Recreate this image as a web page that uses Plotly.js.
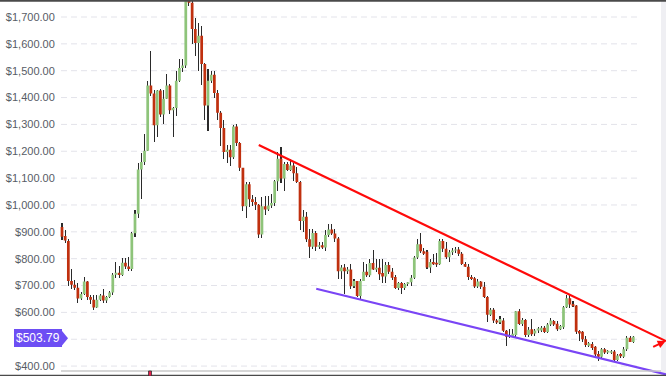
<!DOCTYPE html>
<html>
<head>
<meta charset="utf-8">
<script src="https://cdn.plot.ly/plotly-3.0.1.min.js"></script>
<style>html,body{margin:0;padding:0;background:#fff;}#chart{width:666px;height:376px;}</style>
</head>
<body>
<div id="chart"></div>
<script>
// ---- data ----
const openP = [918,884,866,717,703,692,652,668,715,657,647,618,647,663,644,657,674,740,748,739,785,771,762,895,967,1132,1160,1202,1445,1415,1297,1426,1337,1396,1445,1353,1361,1463,1510,1519,1790,1753,1655,1603,1630,1525,1370,1463,1485,1417,1343,1287,1197,1206,1178,1292,1231,1139,995,1077,1021,1011,1001,890,995,983,998,1007,1088,1172,1099,1153,1130,1147,1118,1086,940,956,872,844,896,844,850,842,888,909,894,875,753,767,753,760,697,717,661,717,751,738,784,760,766,747,734,776,751,732,691,709,691,706,712,729,804,854,828,826,767,788,785,779,866,837,805,824,830,834,818,780,770,732,727,696,715,695,657,591,610,570,562,570,532,509,512,516,604,557,572,516,537,521,533,533,543,527,555,568,558,537,545,619,653,631,626,531,528,500,476,482,472,445,435,463,451,450,454,423,445,435,463,506,490];
const highP = [934,905,872,760,720,708,676,731,716,663,663,663,668,688,660,678,745,788,774,802,802,805,900,983,1157,1194,1266,1463,1575,1427,1430,1432,1430,1489,1452,1365,1498,1544,1544,1800,1800,1763,1696,1678,1668,1530,1506,1500,1500,1430,1350,1315,1222,1222,1296,1302,1235,1139,1085,1085,1036,1030,1005,1030,1033,1033,1040,1094,1197,1216,1160,1160,1172,1155,1140,1090,980,975,910,912,902,862,862,906,929,929,909,881,775,781,768,779,725,717,725,788,782,800,832,800,800,800,788,788,766,738,712,712,710,715,738,809,875,894,838,832,800,819,820,875,875,862,834,838,844,844,825,786,780,740,732,725,718,712,662,616,615,575,585,580,534,537,540,607,612,580,575,545,577,540,545,548,550,562,580,572,568,552,623,666,663,641,628,535,532,512,490,490,476,457,468,466,460,460,461,445,450,470,512,512,512];
const lowP = [870,858,700,688,682,636,645,663,645,632,608,616,642,635,636,654,663,728,728,736,761,755,755,880,950,1024,1150,1200,1405,1234,1254,1328,1300,1393,1337,1254,1330,1458,1497,1510,1740,1600,1556,1500,1448,1316,1275,1455,1400,1316,1218,1172,1155,1147,1172,1220,1127,978,953,992,995,980,878,878,962,978,988,995,1052,1080,1052,1125,1127,1090,1082,906,900,862,804,835,830,835,835,827,880,890,862,726,726,667,742,688,692,657,651,717,732,732,757,750,719,710,711,742,722,688,685,667,685,700,700,725,800,820,812,760,747,775,770,775,825,800,788,815,820,810,775,768,722,720,692,692,687,652,566,585,560,558,555,528,476,505,508,510,552,550,510,510,512,512,525,528,525,522,550,550,530,533,540,615,617,620,520,495,490,470,470,460,433,420,432,445,445,445,415,418,432,430,458,488,486];
const closeP = [882,868,717,703,692,652,668,715,657,647,618,647,663,644,657,674,740,748,739,785,771,762,895,967,1132,1160,1202,1445,1415,1297,1426,1337,1396,1445,1353,1361,1463,1510,1519,1780,1753,1655,1603,1630,1525,1370,1463,1485,1417,1343,1287,1197,1206,1178,1292,1231,1139,995,1077,1021,1011,1001,890,995,983,998,1007,1088,1172,1099,1153,1130,1147,1118,1086,940,956,872,844,896,844,850,842,888,909,894,875,753,767,753,760,697,717,661,717,751,738,784,760,766,742,734,776,751,729,691,709,691,706,712,729,804,854,828,818,767,788,779,778,866,837,805,824,830,834,818,780,770,732,724,696,715,695,657,591,610,570,562,575,532,509,516,520,604,557,572,516,535,519,533,540,543,527,555,570,555,537,549,619,653,629,623,528,521,500,479,485,467,443,435,463,451,457,455,423,439,437,463,506,490,509];

// grid levels (every $100); the $500 label is hidden behind the price tag in the reference
const gridValues = [400,500,600,700,800,900,1000,1100,1200,1300,1400,1500,1600,1700];
const tickValues = [400,600,700,800,900,1000,1100,1200,1300,1400,1500,1600,1700];
const tickLabels = ["$400.00","$600.00","$700.00","$800.00","$900.00","$1,000.00","$1,100.00","$1,200.00","$1,300.00","$1,400.00","$1,500.00","$1,600.00","$1,700.00"];

const resistX = [62, 190.3];
const resistY = [1223, 493];
const supportX = [80.1, 190.3];
const supportY = [688, 369];
const lastPrice = 503.79;
const lastPriceLabel = "$503.79";

// ---- build ----
const idx = openP.map((_, i) => i);
const wickLen = highP.map((h, i) => h - lowP[i]);

const wicks = {
  type: 'bar', x: idx, base: lowP, y: wickLen, width: 0.33,
  marker: {color: '#2a2a2a', line: {width: 0}},
  hoverinfo: 'skip', showlegend: false
};
const bodies = {
  type: 'candlestick', x: idx, open: openP, high: highP, low: lowP, close: closeP,
  increasing: {fillcolor: '#8ec47a', line: {color: '#8ec47a', width: 0}},
  decreasing: {fillcolor: '#c0300f', line: {color: '#c0300f', width: 0}},
  whiskerwidth: 0, hoverinfo: 'skip', showlegend: false
};
const resist = {
  type: 'scatter', mode: 'lines', x: resistX, y: resistY,
  line: {color: '#ff0a0a', width: 2.2}, hoverinfo: 'skip', showlegend: false
};
const support = {
  type: 'scatter', mode: 'lines', x: supportX, y: supportY,
  line: {color: '#7a45f5', width: 2.2}, hoverinfo: 'skip', showlegend: false
};

const plotL = 60, plotW = 606;
const px = v => (v - plotL) / plotW;

const shapes = [];
gridValues.forEach(v => shapes.push({
  type: 'line', xref: 'paper', yref: 'y', x0: px(61), x1: px(637), y0: v, y1: v,
  line: {color: '#e3e3ea', width: 1, dash: '6px,4px'}, layer: 'below'
}));
shapes.push({type: 'rect', xref: 'paper', yref: 'paper', x0: px(661), x1: px(667), y0: 0, y1: 1,
  fillcolor: '#efeff3', line: {width: 0}, layer: 'below'});
shapes.push({type: 'line', xref: 'paper', yref: 'paper', x0: px(61), x1: px(661), y0: 5/376, y1: 5/376,
  line: {color: '#c9c9c9', width: 1.5}, layer: 'above'});
shapes.push({type: 'line', xref: 'paper', yref: 'paper', x0: px(0), x1: px(666), y0: 0.6/376, y1: 0.6/376,
  line: {color: '#4a4a4a', width: 1.5}, layer: 'above'});
shapes.push({type: 'line', xref: 'paper', yref: 'paper', x0: px(0), x1: px(666), y0: 1 - 0.8/376, y1: 1 - 0.8/376,
  line: {color: '#4a4a4a', width: 1.8}, layer: 'above'});
shapes.push({type: 'rect', xref: 'paper', yref: 'paper', x0: px(148.5), x1: px(151.5), y0: 0, y1: 5/376,
  fillcolor: '#e8204c', line: {color: '#333', width: 0.8}, layer: 'above'});
shapes.push({type: 'path', xref: 'paper', yref: 'y', xsizemode: 'pixel', ysizemode: 'pixel',
  xanchor: 0, yanchor: lastPrice, path: 'M1,-8.5 L8,0 L1,8.5 Z',
  fillcolor: '#6d4ef4', line: {width: 0}, layer: 'above'});

const layout = {
  width: 666, height: 376,
  margin: {l: plotL, r: 0, t: 0, b: 0, pad: 0},
  paper_bgcolor: '#ffffff', plot_bgcolor: '#ffffff',
  showlegend: false, boxgap: 0.14, boxgroupgap: 0, barmode: 'overlay', bargap: 0,
  xaxis: {range: [-0.63, 190.3], showgrid: false, zeroline: false, showticklabels: false,
    showline: false, ticks: '', rangeslider: {visible: false}, fixedrange: true},
  yaxis: {range: [363.1, 1763.3], tickvals: tickValues, ticktext: tickLabels,
    showgrid: false, zeroline: false, showline: false, ticks: 'outside', ticklen: 2,
    tickcolor: 'rgba(0,0,0,0)',
    tickfont: {family: 'Liberation Sans, Arial, sans-serif', size: 11, color: '#575c66'}},
  shapes: shapes,
  annotations: [
    {xref: 'paper', yref: 'y', x: px(61.5), y: lastPrice, xanchor: 'right', yanchor: 'middle',
     text: lastPriceLabel, showarrow: false, bgcolor: '#6d4ef4', borderpad: 2, borderwidth: 0,
     font: {family: 'Liberation Sans, Arial, sans-serif', size: 12, color: '#ffffff'}},
    {xref: 'x', yref: 'y', x: 190.2, y: 493.9, ax: -14, ay: 6.7, text: '', showarrow: true,
     arrowcolor: '#ff0a0a', arrowwidth: 2, arrowhead: 2, arrowsize: 0.8, standoff: 0}
  ]
};

Plotly.newPlot('chart', [wicks, bodies, resist, support], layout, {displayModeBar: false, staticPlot: true});
</script>
</body>
</html>
